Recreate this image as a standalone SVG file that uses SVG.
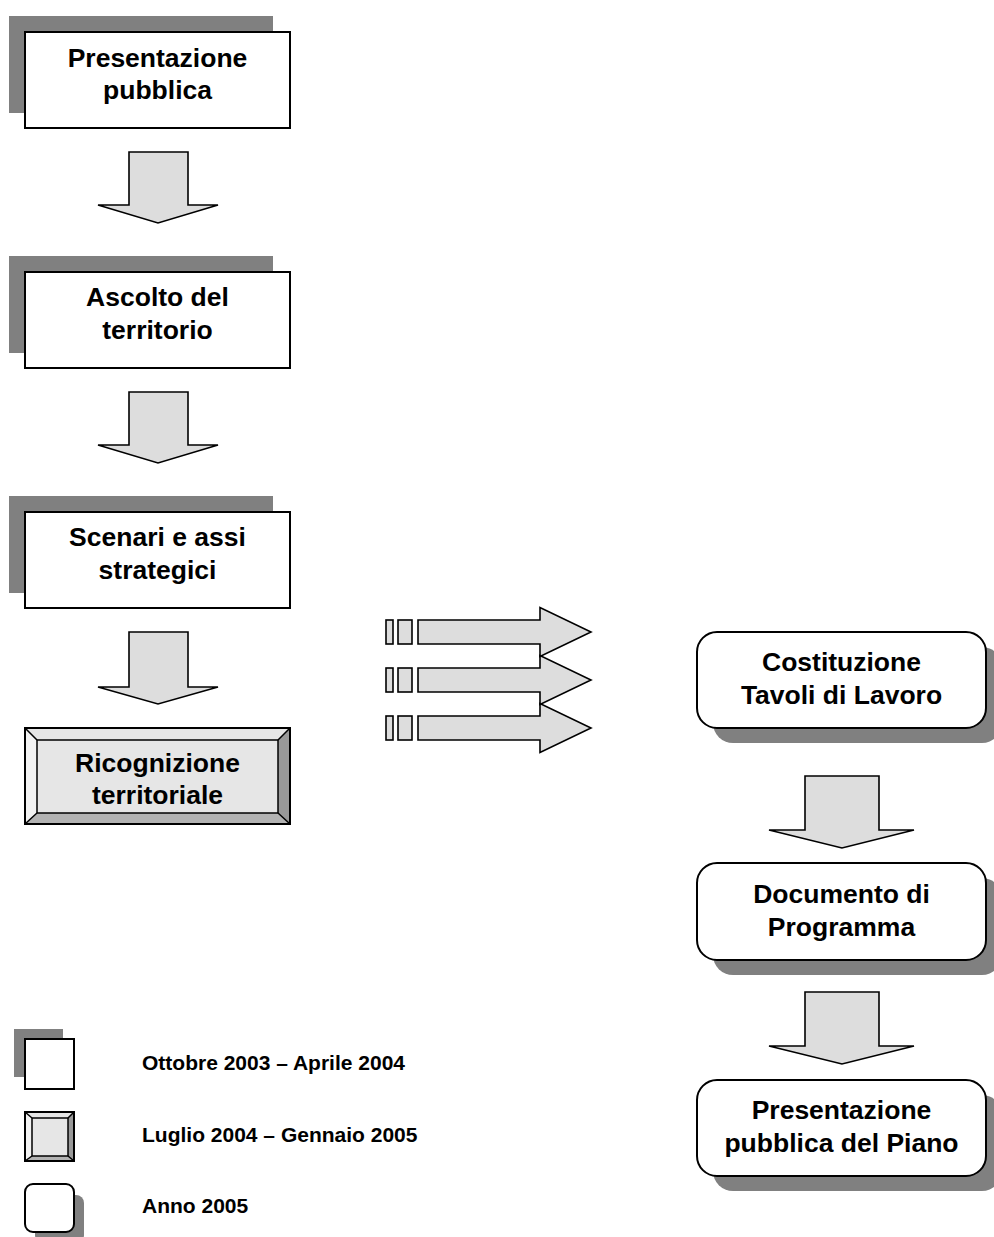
<svg xmlns="http://www.w3.org/2000/svg" width="994" height="1237" viewBox="0 0 994 1237">
<style>
.shadow{fill:#808080}
.box{fill:#fff;stroke:#000;stroke-width:2}
.arrow{fill:#dddddd;stroke:#000;stroke-width:1.6;stroke-linejoin:miter}
.t{font-family:"Liberation Sans",Arial,sans-serif;font-weight:bold;font-size:26.5px;fill:#000;text-anchor:middle}
.lg{font-family:"Liberation Sans",Arial,sans-serif;font-weight:bold;font-size:21px;fill:#000}
.bev{stroke:#000;stroke-width:1.5}
</style>
<rect width="994" height="1237" fill="#fff"/>

<g id="connectors">
  <path class="arrow" d="M129,152 H188 V205 H218 L158,223 L98,205 H129 Z"/>
  <path class="arrow" d="M129,392 H188 V445 H218 L158,463 L98,445 H129 Z"/>
  <path class="arrow" d="M129,632 H188 V687 H218 L158,704 L98,687 H129 Z"/>
  <path class="arrow" d="M805,776 H879 V830 H914 L842,848 L769,830 H805 Z"/>
  <path class="arrow" d="M805,992 H879 V1046 H914 L842,1064 L769,1046 H805 Z"/>
  <g id="triple-arrow">
    <rect class="arrow" x="386" y="620" width="7" height="24"/>
    <rect class="arrow" x="398" y="620" width="14" height="24"/>
    <path class="arrow" d="M418,620 H540 V607.5 L591,632 L540,656.5 V644 H418 Z"/>
    <rect class="arrow" x="386" y="668" width="7" height="24"/>
    <rect class="arrow" x="398" y="668" width="14" height="24"/>
    <path class="arrow" d="M418,668 H540 V655.5 L591,680 L540,704.5 V692 H418 Z"/>
    <rect class="arrow" x="386" y="716" width="7" height="24"/>
    <rect class="arrow" x="398" y="716" width="14" height="24"/>
    <path class="arrow" d="M418,716 H540 V703.5 L591,728 L540,752.5 V740 H418 Z"/>
  </g>
</g>

<g id="presentazione-pubblica">
  <rect class="shadow" x="9" y="16" width="264" height="97"/>
  <rect class="box" x="25" y="32" width="265" height="96"/>
  <text class="t" x="157.5" y="66.5">Presentazione</text>
  <text class="t" x="157.5" y="99">pubblica</text>
</g>

<g id="ascolto-territorio">
  <rect class="shadow" x="9" y="256" width="264" height="97"/>
  <rect class="box" x="25" y="272" width="265" height="96"/>
  <text class="t" x="157.5" y="306">Ascolto del</text>
  <text class="t" x="157.5" y="339">territorio</text>
</g>

<g id="scenari-assi">
  <rect class="shadow" x="9" y="496" width="264" height="97"/>
  <rect class="box" x="25" y="512" width="265" height="96"/>
  <text class="t" x="157.5" y="546">Scenari e assi</text>
  <text class="t" x="157.5" y="579">strategici</text>
</g>

<g id="ricognizione-territoriale">
  <polygon points="25,728 290,728 278,740 37,740" fill="#e6e6e6"/>
  <polygon points="25,728 37,740 37,813 25,824" fill="#f2f2f2"/>
  <polygon points="290,728 290,824 278,813 278,740" fill="#999999"/>
  <polygon points="25,824 290,824 278,813 37,813" fill="#b3b3b3"/>
  <rect class="bev" x="37" y="740" width="241" height="73" fill="#e6e6e6"/>
  <path class="bev" d="M25,728 L37,740 M290,728 L278,740 M25,824 L37,813 M290,824 L278,813" fill="none"/>
  <rect x="25" y="728" width="265" height="96" fill="none" stroke="#000" stroke-width="2"/>
  <text class="t" x="157.5" y="771.5">Ricognizione</text>
  <text class="t" x="157.5" y="804">territoriale</text>
</g>

<g id="costituzione-tavoli">
  <rect class="shadow" x="713" y="647" width="289" height="96" rx="20"/>
  <rect class="box" x="697" y="632" width="289" height="96" rx="20"/>
  <text class="t" x="841.5" y="671">Costituzione</text>
  <text class="t" x="841.5" y="703.5">Tavoli di Lavoro</text>
</g>

<g id="documento-programma">
  <rect class="shadow" x="713" y="878" width="289" height="97" rx="20"/>
  <rect class="box" x="697" y="863" width="289" height="97" rx="20"/>
  <text class="t" x="841.5" y="903">Documento di</text>
  <text class="t" x="841.5" y="935.5">Programma</text>
</g>

<g id="presentazione-piano">
  <rect class="shadow" x="713" y="1095" width="289" height="96" rx="20"/>
  <rect class="box" x="697" y="1080" width="289" height="96" rx="20"/>
  <text class="t" x="841.5" y="1119">Presentazione</text>
  <text class="t" x="841.5" y="1151.5">pubblica del Piano</text>
</g>

<g id="legend">
  <g id="legend-1">
    <rect class="shadow" x="14" y="1029" width="49" height="48"/>
    <rect class="box" x="25" y="1039" width="49" height="50"/>
    <text class="lg" x="142" y="1070">Ottobre 2003 – Aprile 2004</text>
  </g>
  <g id="legend-2">
    <polygon points="25,1112 74,1112 68,1118 32,1118" fill="#e6e6e6"/>
    <polygon points="25,1112 32,1118 32,1156 25,1161" fill="#f2f2f2"/>
    <polygon points="74,1112 74,1161 68,1156 68,1118" fill="#999999"/>
    <polygon points="25,1161 74,1161 68,1156 32,1156" fill="#b3b3b3"/>
    <rect class="bev" x="32" y="1118" width="36" height="38" fill="#e6e6e6"/>
    <path class="bev" d="M25,1112 L32,1118 M74,1112 L68,1118 M25,1161 L32,1156 M74,1161 L68,1156" fill="none"/>
    <rect x="25" y="1112" width="49" height="49" fill="none" stroke="#000" stroke-width="2"/>
    <text class="lg" x="142" y="1141.5">Luglio 2004 – Gennaio 2005</text>
  </g>
  <g id="legend-3">
    <rect class="shadow" x="35" y="1195" width="49" height="48" rx="8"/>
    <rect class="box" x="25" y="1184" width="49" height="48" rx="8"/>
    <text class="lg" x="142" y="1212.5">Anno 2005</text>
  </g>
</g>
</svg>
